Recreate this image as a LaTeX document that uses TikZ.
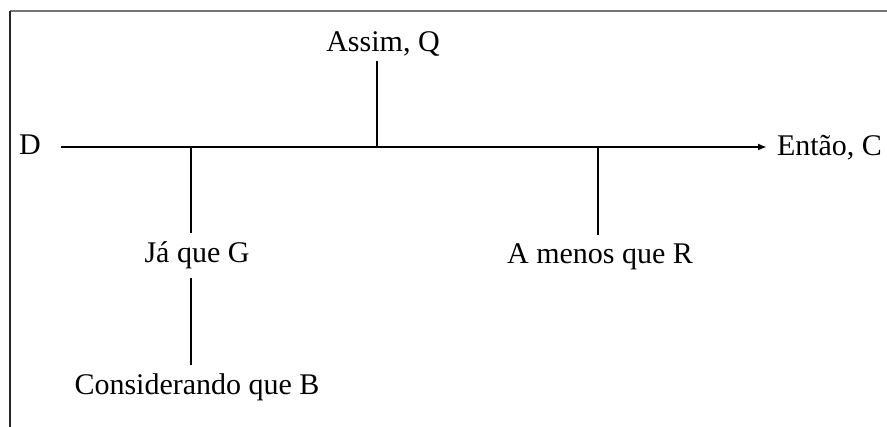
\documentclass[tikz,border=0pt]{standalone}
\usepackage{fontspec}
\setmainfont{Liberation Serif}
\usetikzlibrary{positioning}
\usetikzlibrary{arrows.meta}

\begin{document}
\begin{tikzpicture}[x=1pt,y=-1pt,>={Latex[length=9pt,width=7pt]},every node/.style={inner sep=2,outer sep=7,font=\fontsize{30}{36}\selectfont}]
	\useasboundingbox (0,0) rectangle (887,427);
	\draw[line width=2pt,black!55] (10,11) -- (887,11);
	\draw[line width=2pt,black!85] (10,11) -- (10,427);
	\coordinate (s) at (61,147);
	\coordinate (e) at (767,147);
	\coordinate (jG) at (191,147);
	\coordinate (jQ) at (377,147);
	\coordinate (jR) at (598,147);
	\node (D) [anchor=base] at (30,155) {D};
	\node (C) [anchor=base west,outer sep=0] at (775,156) {Então, C};
	\node (Q) [anchor=base,outer sep=2] at (383,52) {Assim, Q};
	\node (G) [anchor=base] at (197,263) {Já que G};
	\node (R) [anchor=base] at (600,264) {A menos que R};
	\node (B) [anchor=base] at (197,395) {Considerando que B};
	\draw[->,line width=1.8pt] (s) -- (e);
	\path[line width=1.4pt]
		(jQ) edge (jQ |- Q.south)
		(jG) edge (jG |- G.north)
		(jR) edge (jR |- R.north)
		(jG |- G.south) edge (jG |- B.north);
\end{tikzpicture}
\end{document}
